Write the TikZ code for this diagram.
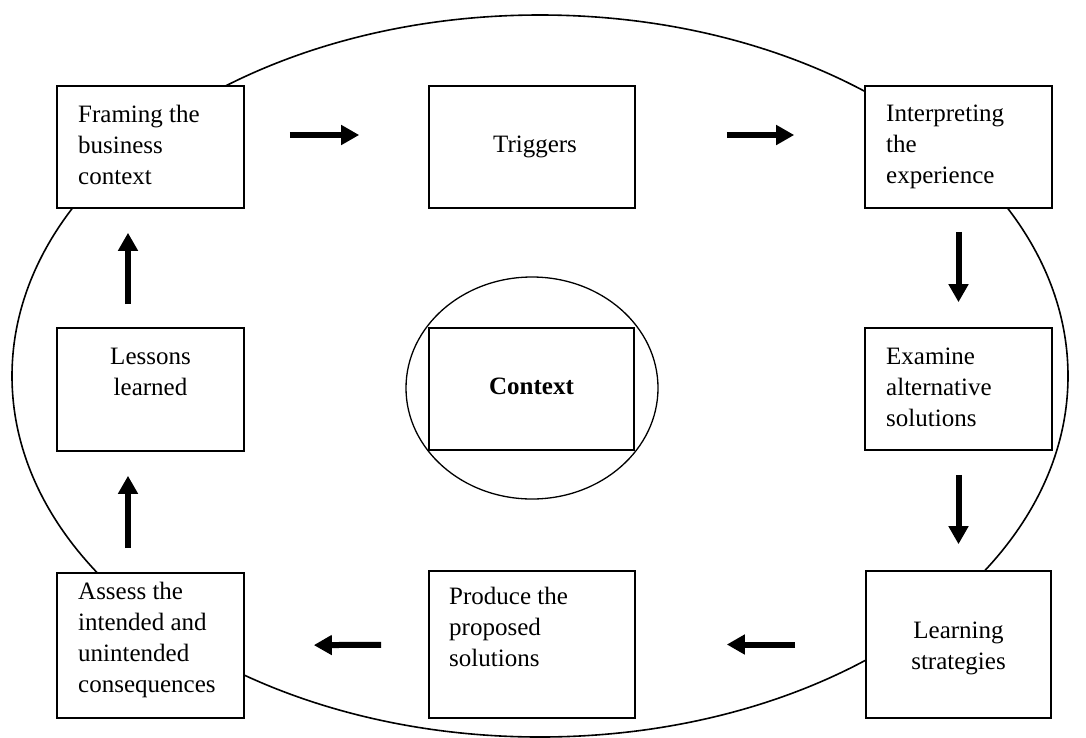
\documentclass[tikz,border=0pt]{standalone}
\usepackage{fontspec}
\setmainfont{Liberation Serif}
\usetikzlibrary{arrows.meta,shapes.geometric}
\begin{document}
\begin{tikzpicture}[x=1pt,y=-1pt,
  stagebox/.style={draw,line width=1.6pt,fill=white,rectangle,inner sep=0pt},
  lbl/.style={inner sep=0pt,font=\fontsize{25}{31}\selectfont},
  lblleft/.style={lbl,align=left,anchor=base west},
  lblmid/.style={lbl,align=center,anchor=base},
  flow/.style={line width=6pt,-{Triangle[length=18pt,width=19pt]}}]
\useasboundingbox (0,0) rectangle (1086,737);

% outer cycle
\node[draw,ellipse,line width=1.6pt,inner sep=0pt,minimum width=1056pt,minimum height=722pt] (outer) at (540,376) {};

% stage boxes
\node[stagebox,minimum width=187pt,minimum height=122pt] (framing)  at (150.5,147) {};
\node[stagebox,minimum width=206pt,minimum height=122pt] (triggers) at (532,147) {};
\node[stagebox,minimum width=187pt,minimum height=122pt] (interp)   at (958.5,147) {};
\node[stagebox,minimum width=187pt,minimum height=123pt] (lessons)  at (150.5,389.5) {};
\node[stagebox,minimum width=187pt,minimum height=122pt] (examine)  at (958.5,389) {};
\node[stagebox,minimum width=187pt,minimum height=145pt] (assess)   at (150.5,645.5) {};
\node[stagebox,minimum width=206pt,minimum height=147pt] (produce)  at (532,644.5) {};
\node[stagebox,minimum width=185pt,minimum height=147pt] (learning) at (958.5,644.5) {};

% central context
\node[draw,ellipse,line width=1.3pt,inner sep=0pt,minimum width=252pt,minimum height=222pt] (ctxring) at (532,388) {};
\node[draw,line width=1.3pt,rectangle,inner sep=0pt,minimum width=205pt,minimum height=122pt] (ctxbox) at (531.5,389) {};

% labels (anchored at the baseline of their last line)
\node[lblleft] (framingtxt)  at (78,184)  {Framing the\\business\\context};
\node[lblmid]  (triggerstxt) at (535,152) {Triggers};
\node[lblleft] (interptxt)   at (886,183) {Interpreting\\the\\experience};
\node[lblmid]  (lessonstxt)  at (150.5,395) {Lessons\\learned};
\node[lblmid]  (ctxtxt)      at (531.5,394) {\bfseries Context};
\node[lblleft] (examinetxt)  at (886,426) {Examine\\alternative\\solutions};
\node[lblleft] (assesstxt)   at (78,692)  {Assess the\\intended and\\unintended\\consequences};
\node[lblleft] (producetxt)  at (449,666) {Produce the\\proposed\\solutions};
\node[lblmid]  (learningtxt) at (958.5,669) {Learning\\strategies};

% flow arrows
\draw[flow,shorten <=45pt,shorten >=69pt] ([yshift=12pt]framing.east) -- ([yshift=12pt]triggers.west);
\draw[flow,shorten <=91pt,shorten >=70pt] ([yshift=12pt]triggers.east) -- ([yshift=12pt]interp.west);
\draw[flow,shorten <=23pt,shorten >=25pt] (interp.south) -- (examine.north);
\draw[flow,shorten <=24pt,shorten >=26pt] (examine.south) -- (learning.north);
\draw[flow,shorten <=70pt,shorten >=91pt] (learning.west) -- (produce.east);
\draw[flow,shorten <=47pt,shorten >=69pt] (produce.west) -- (assess.east);
\draw[flow,shorten <=24pt,shorten >=24pt] ([xshift=-22.5pt]assess.north) -- ([xshift=-22.5pt]lessons.south);
\draw[flow,shorten <=23pt,shorten >=24pt] ([xshift=-22.5pt]lessons.north) -- ([xshift=-22.5pt]framing.south);
\end{tikzpicture}
\end{document}
